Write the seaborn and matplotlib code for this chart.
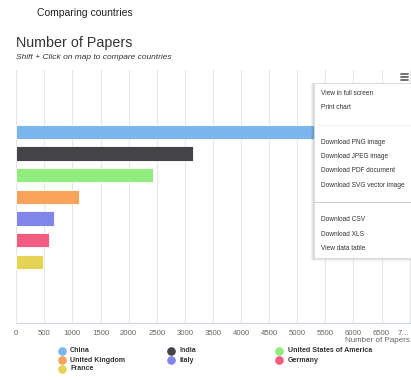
import matplotlib
matplotlib.use("Agg")
import matplotlib.pyplot as plt
import seaborn as sns
import pandas as pd
from matplotlib.lines import Line2D
from matplotlib.patches import Rectangle

# data
countries = ["China", "India", "United States of America", "United Kingdom",
             "Italy", "Germany", "France"]
papers = [6850, 3150, 2435, 1120, 680, 580, 485]
colors = ["#7cb5ec", "#434348", "#90ed7d", "#f7a35c", "#8085e9", "#f15c80", "#e4d354"]
ticks = list(range(0, 7001, 500))
tick_labels = [str(t) for t in ticks[:-1]] + ["7…"]
menu_items = ["View in full screen", "Print chart", None, "Download PNG image",
              "Download JPEG image", "Download PDF document",
              "Download SVG vector image", None, "Download CSV", "Download XLS",
              "View data table"]

W, H = 411, 380


def fx(x):
    return x / W


def fy(y):
    return 1 - y / H


sns.set_theme(style="white")
plt.rcParams["font.family"] = ["Liberation Sans", "DejaVu Sans"]

df = pd.DataFrame({"country": countries, "papers": papers})

fig = plt.figure(figsize=(W / 100, H / 100), dpi=100)
ax = fig.add_axes([fx(16.2), fy(322.7), fx(411) - fx(16.2), fy(70) - fy(322.7)])

sns.barplot(data=df, x="papers", y="country", hue="country", palette=colors,
            orient="h", width=0.67, legend=False, ax=ax, saturation=1,
            edgecolor="white", linewidth=0.6)

ax.set_xlim(0, 7000 * (411 - 16.2) / (409.6 - 16.2))
ax.set_ylim(8.81, -2.85)
ax.set_xticks(ticks)
ax.set_xticklabels(tick_labels, fontsize=5.6, color="#666666")
ax.get_xticklabels()[-1].set_horizontalalignment("right")
ax.tick_params(axis="x", length=0, pad=5)
ax.set_yticks([])
ax.set_ylabel("")
ax.set_xlabel("")
ax.grid(axis="x", color="#e6e6e6", linewidth=0.8)
ax.set_axisbelow(True)
for s in ["top", "right", "left"]:
    ax.spines[s].set_visible(False)
ax.spines["bottom"].set_color("#ccd6eb")
ax.spines["bottom"].set_linewidth(0.8)

# axis title at the right edge
fig.text(fx(410), fy(341), "Number of Papers", fontsize=5.8, color="#666666",
         ha="right", va="center")

# titles
fig.text(fx(37), fy(13), "Comparing countries", fontsize=7.5, color="#222222",
         ha="left", va="center")
fig.text(fx(16), fy(43.5), "Number of Papers", fontsize=10.3, color="#333333",
         ha="left", va="center")
fig.text(fx(16), fy(57.5), "Shift + Click on map to compare countries",
         fontsize=6.0, style="italic", color="#333333", ha="left", va="center")

# legend laid out by hand (three columns)
col_x = [61.7, 170.7, 279]
row_y = [351, 360, 369]
for i, (name, c) in enumerate(zip(countries, colors)):
    cx = col_x[i % 3]
    cy = row_y[i // 3]
    fig.add_artist(Line2D([fx(cx)], [fy(cy)], marker="o", markersize=5.2,
                          color=c, linestyle="none", transform=fig.transFigure))
    fig.text(fx(cx + 8.5), fy(cy), name, fontsize=5.1, fontweight="bold",
             color="#333333", ha="left", va="center")

# export menu overlay
for k in range(3):
    fig.add_artist(Rectangle((fx(314.3 - 1 - k), fy(258.3 + 1 + k)),
                             fx(411) - fx(314.3 - 1 - k), fy(83.3) - fy(258.3 + 1 + k),
                             transform=fig.transFigure, facecolor="#000000",
                             alpha=0.05, linewidth=0))
fig.add_artist(Rectangle((fx(314.3), fy(258.3)), fx(411) - fx(314.3),
                         fy(83.3) - fy(258.3), transform=fig.transFigure,
                         facecolor="white", edgecolor="#d8d8d8", linewidth=0.6))
item_y = [93.3, 107.7, 125, 142.3, 156.7, 171, 185.7, 202.3, 219.3, 234, 248.3]
sep_colors = {2: "#f2f2f2", 7: "#cccccc"}
for i, (label, y) in enumerate(zip(menu_items, item_y)):
    if label is None:
        fig.add_artist(Line2D([fx(314.3), fx(411)], [fy(y), fy(y)], color=sep_colors[i],
                              linewidth=0.7, transform=fig.transFigure))
    else:
        fig.text(fx(321), fy(y), label, fontsize=4.7, color="#333333",
                 ha="left", va="center")

# hamburger icon
for y in [73.8, 77, 80.2]:
    fig.add_artist(Line2D([fx(400.5), fx(407.5)], [fy(y), fy(y)], color="#666666",
                          linewidth=1.3, transform=fig.transFigure))

fig.savefig("out.png", dpi=100, facecolor="white")
